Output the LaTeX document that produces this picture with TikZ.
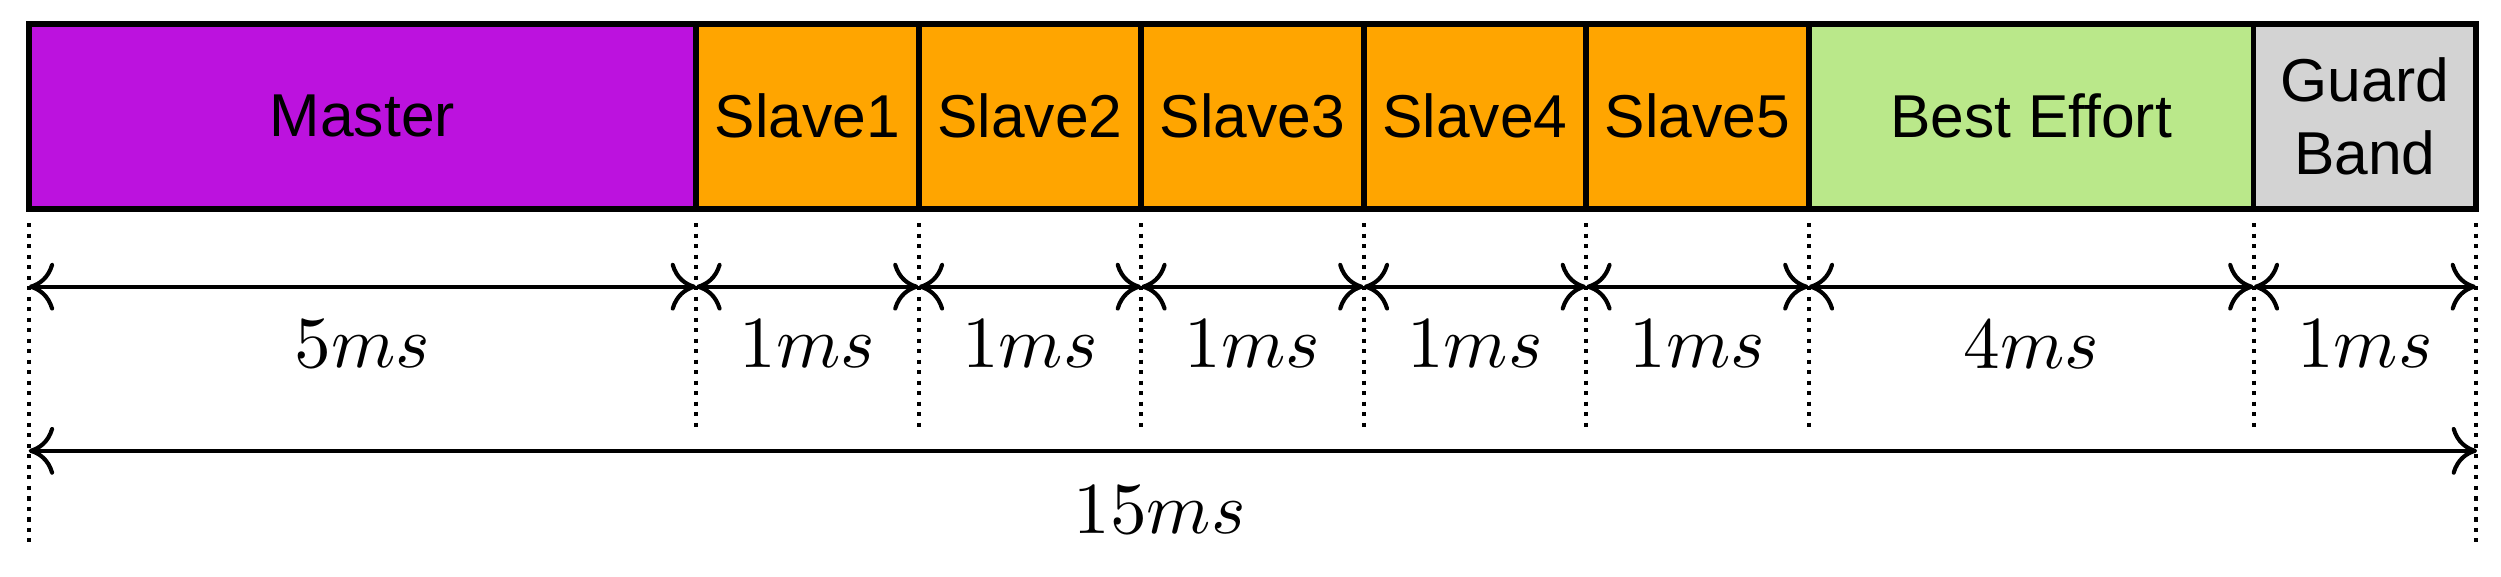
\documentclass[tikz,border=0pt]{standalone}
\usepackage{fontspec}
\setmainfont{Liberation Sans}
\usepackage{unicode-math}
\usetikzlibrary{arrows.meta}
\definecolor{cmaster}{HTML}{BC12DE}
\definecolor{cslave}{HTML}{FFA500}
\definecolor{cbest}{HTML}{BAE88A}
\definecolor{cguard}{HTML}{D3D3D3}
\begin{document}
\begin{tikzpicture}[x=0.5pt,y=-0.5pt,
  slot/.style={draw=black,line width=1.8pt,minimum height=58pt,inner sep=0pt,font=\fontsize{19}{23}\selectfont,align=center},
  dim/.style={line width=1.3pt,{To[length=8pt,width=15pt]}-{To[length=8pt,width=15pt]}},
  tick/.style={line width=1.3pt,dotted},
  lab/.style={font=\fontsize{23}{26}\selectfont}]
\useasboundingbox (0,0) rectangle (1570,362);
\def\u{139.67}
\foreach \n/\a/\b/\c/\t in {m/0/3/cmaster/Master,s1/3/4/cslave/Slave1,s2/4/5/cslave/Slave2,s3/5/6/cslave/Slave3,s4/6/7/cslave/Slave4,s5/7/8/cslave/Slave5,be/8/10/cbest/Best Effort,gb/10/11/cguard/Guard\\Band}{
  \node[slot,fill=\c,minimum width={(\b-\a)*\u*0.5pt}] (\n) at ({18+(\a+\b)/2*\u},73) {\t};
}
\foreach \i in {0,...,11}{
  \coordinate (t\i) at ({18+\i*\u},140);
  \coordinate (a\i) at ({18+\i*\u},180);
}
\draw[tick] (t0) -- ++(0,200);
\draw[tick] (t11) -- ++(0,200);
\foreach \i in {3,4,5,6,7,8,10}{\draw[tick] (t\i) -- ++(0,130);}
\foreach \a/\b/\t in {0/3/5,3/4/1,4/5/1,5/6/1,6/7/1,7/8/1,8/10/4,10/11/1}{
  \draw[dim] (a\a) -- node[lab,below=6pt] {$\t ms$} (a\b);
}
\coordinate (b0) at (18,283);
\coordinate (b1) at (1555,283);
\draw[dim] (b0) -- (b1);
\node[lab] (tot) at (728,320) {$15ms$};
\end{tikzpicture}
\end{document}
